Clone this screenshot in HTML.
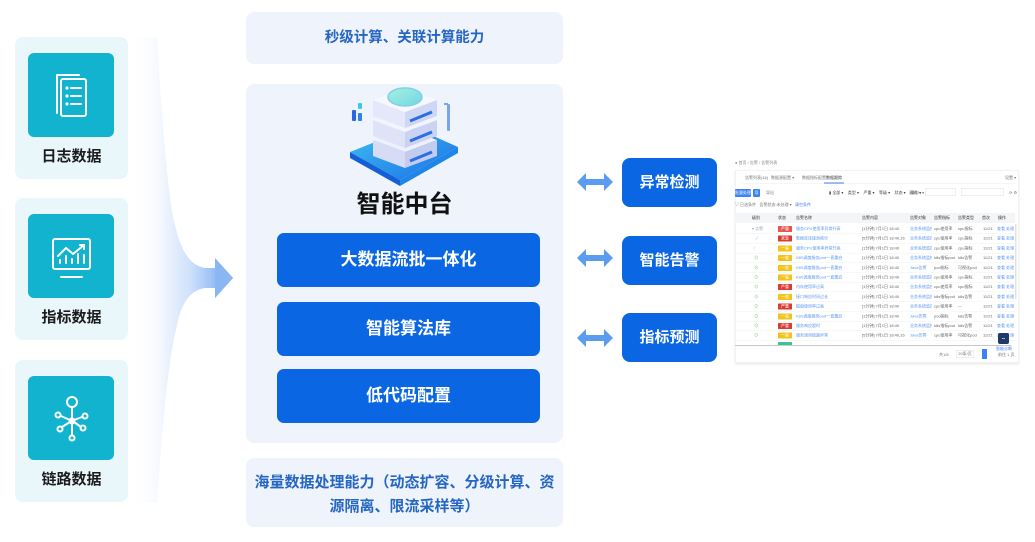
<!DOCTYPE html>
<html><head><meta charset="utf-8">
<style>
*{margin:0;padding:0;box-sizing:border-box}
html,body{width:1035px;height:542px;background:#fff;overflow:hidden}
body{position:relative;font-family:"Liberation Sans","Noto Sans CJK SC",sans-serif}
.abs{position:absolute}
.card{position:absolute;left:15px;width:113px;height:142px;background:#e9f7fb;border-radius:8px}
.teal{position:absolute;left:13px;top:16px;width:86px;height:84px;background:#11b3cf;border-radius:6px}
.lbl{position:absolute;left:0;width:113px;top:109px;text-align:center;font-size:15px;font-weight:bold;color:#1b1b1b;line-height:22px}
.pbox{position:absolute;left:246px;width:317px;background:#eef3fc;border-radius:8px}
.btn{position:absolute;left:277px;width:263px;height:54px;background:#0b66e4;border-radius:7px;color:#fff;font-weight:bold;font-size:17px;text-align:center;line-height:54px}
.rbtn{position:absolute;left:622px;width:95px;height:49px;background:#0b66e4;border-radius:8px;color:#fff;font-weight:bold;font-size:15px;text-align:center;line-height:49px}
/* screenshot */
#shot{position:absolute;left:731px;top:155px;width:580px;height:430px;transform:scale(0.5);transform-origin:0 0;font-size:8px;color:#777;line-height:12px}
#shot .a{position:absolute;white-space:nowrap}
.r{position:absolute;left:8px;width:560px;height:19px;border-bottom:1px solid #f2f2f2}
.r span,.r b,.r i{position:absolute;top:3px;white-space:nowrap;font-style:normal;overflow:hidden}
.tg{left:86px;width:28px;height:12px;color:#fff;text-align:center;font-weight:normal;font-size:8px;line-height:12px;border-radius:1px}
.red{background:#dc3b34}.yel{background:#f2c318}.grn{background:#3cc2a0}
.ck{left:34px;color:#9ab;}
.nm{left:122px;width:120px;color:#5b96f0}
.tm{left:254px;width:90px;color:#666}
.c4{left:350px;width:44px;color:#5b96f0}
.c5{left:398px;width:44px;color:#666}
.c6{left:446px;width:44px;color:#666}
.c7{left:496px;width:26px;color:#666}
.lk{left:524px;color:#5b96f0}
</style></head><body>

<!-- funnel arrow -->
<svg class="abs" style="left:0;top:0" width="1035" height="542" viewBox="0 0 1035 542">
<defs>
<linearGradient id="fg" x1="132" y1="0" x2="215" y2="0" gradientUnits="userSpaceOnUse">
<stop offset="0" stop-color="#ffffff" stop-opacity="0"/>
<stop offset="0.35" stop-color="#f3f7fe"/>
<stop offset="0.7" stop-color="#cfe1fb"/>
<stop offset="1" stop-color="#94bdf5"/>
</linearGradient>
</defs>
<path d="M132 37 L157 37 C162 120,168 200,175 225 C182 255,192 266,205 268 L215 268 L215 258 L233 278 L215 298 L215 288 L205 288 C192 290,182 300,177 325 C168 360,162 430,157 503 L132 503 Z" fill="url(#fg)"/>
<path d="M215 268 L215 258 L233 278 L215 298 L215 288 Z" fill="#8ab7f4"/>
</svg>

<!-- left cards -->
<div class="card" style="top:37px"><div class="teal"></div><div class="lbl">日志数据</div></div>
<div class="card" style="top:198px"><div class="teal"></div><div class="lbl">指标数据</div></div>
<div class="card" style="top:360px"><div class="teal"></div><div class="lbl">链路数据</div></div>

<!-- icons -->
<svg class="abs" style="left:0;top:0" width="140" height="542" viewBox="0 0 140 542" fill="none" stroke="#fff" stroke-width="2" stroke-linecap="round" stroke-linejoin="round">
<path d="M57 113 L57 75 L79 75"/>
<rect x="61" y="79" width="25" height="37" rx="2"/>
<circle cx="67" cy="88" r="0.6" fill="#fff"/><line x1="71" y1="88" x2="81" y2="88"/>
<circle cx="67" cy="96" r="0.6" fill="#fff"/><line x1="71" y1="96" x2="81" y2="96"/>
<circle cx="67" cy="104" r="0.6" fill="#fff"/><line x1="71" y1="104" x2="81" y2="104"/>
<rect x="53" y="239" width="37" height="30" rx="2"/>
<line x1="61" y1="277" x2="82" y2="277"/>
<path d="M58 256 L66 248 L73 254 L84 245" />
<path d="M80 245 L84 245 L84 249"/>
<line x1="60" y1="263" x2="60" y2="260"/><line x1="66" y1="263" x2="66" y2="256"/><line x1="72" y1="263" x2="72" y2="259"/><line x1="78" y1="263" x2="78" y2="254"/><line x1="84" y1="263" x2="84" y2="255"/>
<circle cx="72" cy="402" r="5"/>
<line x1="72" y1="407" x2="72" y2="418"/>
<circle cx="72" cy="421" r="2.5" fill="#fff"/>
<circle cx="58" cy="415" r="2.5"/><circle cx="85" cy="416" r="2.5"/>
<circle cx="60" cy="429" r="2.5"/><circle cx="83" cy="428" r="2.5"/>
<circle cx="72" cy="438" r="2.5"/>
<line x1="61" y1="416" x2="70" y2="420"/><line x1="82" y1="417" x2="74" y2="420"/>
<line x1="62" y1="427" x2="70" y2="422"/><line x1="81" y1="427" x2="74" y2="422"/>
<line x1="72" y1="424" x2="72" y2="435"/>
</svg>

<!-- middle column -->
<div class="pbox" style="top:12px;height:52px;text-align:center;line-height:52px;font-size:14.5px;font-weight:bold;color:#2566c2">秒级计算、关联计算能力</div>
<div class="pbox" style="top:84px;height:359px"></div>
<div class="pbox" style="top:458px;height:69px;text-align:center;font-size:15px;font-weight:bold;color:#2566c2;line-height:24px;padding-top:13px">海量数据处理能力（动态扩容、分级计算、资<br>源隔离、限流采样等）</div>

<!-- server icon -->
<svg class="abs" style="left:340px;top:80px" width="130" height="110" viewBox="340 80 130 110">
<defs>
<linearGradient id="pl" x1="0" y1="0" x2="1" y2="1"><stop offset="0" stop-color="#3fc0f2"/><stop offset="1" stop-color="#1a6fe6"/></linearGradient>
<linearGradient id="dk" x1="0" y1="0" x2="1" y2="1"><stop offset="0" stop-color="#a8f0dc"/><stop offset="1" stop-color="#6fd6e6"/></linearGradient>
</defs>
<polygon points="350,152 400,180 400,186 350,158" fill="#145ed6"/>
<polygon points="400,180 458,147 458,153 400,186" fill="#1d86e6"/>
<polygon points="350,152 413,127 458,147 400,180" fill="url(#pl)"/>
<g>
<polygon points="373,140 405,152 405,168 373,156" fill="#d7dcf5"/>
<polygon points="405,152 437,140 437,156 405,168" fill="#c3cbef"/>
<polygon points="373,140 405,128 437,140 405,152" fill="#eef0fd"/>
<line x1="410" y1="161" x2="432" y2="152" stroke="#2b6fe6" stroke-width="3"/>
<polygon points="373,120 405,132 405,148 373,136" fill="#dfe3f8"/>
<polygon points="405,132 437,120 437,136 405,148" fill="#cbd2f2"/>
<polygon points="373,120 405,108 437,120 405,132" fill="#f2f4fe"/>
<line x1="410" y1="141" x2="432" y2="132" stroke="#2b6fe6" stroke-width="3"/>
<polygon points="373,100 405,112 405,128 373,116" fill="#e4e8fa"/>
<polygon points="405,112 437,100 437,116 405,128" fill="#d0d7f4"/>
<polygon points="373,100 405,88 437,100 405,112" fill="#f6f7ff"/>
<line x1="410" y1="121" x2="432" y2="112" stroke="#2b6fe6" stroke-width="3"/>
<ellipse cx="405" cy="97" rx="17" ry="9" fill="url(#dk)" stroke="#7fd0ee" stroke-width="1.5"/>
</g>
<rect x="352" y="110" width="4" height="11" rx="1" fill="#2a66e6"/>
<rect x="358" y="103" width="4" height="6" rx="1" fill="#3cc8ea"/>
<rect x="358" y="113" width="4" height="8" rx="1" fill="#2a86e8"/>
<rect x="447" y="104" width="3" height="27" rx="1" fill="#79a6e8"/>
<rect x="444" y="103" width="4" height="2" fill="#79a6e8"/>
</svg>

<div class="abs" style="left:246px;width:317px;top:188px;text-align:center;font-size:24px;font-weight:bold;color:#111;line-height:34px">智能中台</div>

<div class="btn" style="top:233px">大数据流批一体化</div>
<div class="btn" style="top:302px">智能算法库</div>
<div class="btn" style="top:369px">低代码配置</div>

<!-- double arrows -->
<svg class="abs" style="left:570px;top:160px" width="50" height="200" viewBox="570 160 50 200" fill="#5a9cf0">
<polygon points="577,182 586,173 586,179 604,179 604,173 613,182 604,191 604,185 586,185 586,191"/>
<polygon points="577,258 586,249 586,255 604,255 604,249 613,258 604,267 604,261 586,261 586,267"/>
<polygon points="577,338 586,329 586,335 604,335 604,329 613,338 604,347 604,341 586,341 586,347"/>
</svg>

<div class="rbtn" style="top:158px">异常检测</div>
<div class="rbtn" style="top:236px">智能告警</div>
<div class="rbtn" style="top:313px">指标预测</div>

<!-- screenshot -->
<div id="shot">
<div class="a" style="left:8px;top:10px;color:#888">● 首页 / 告警 / 告警列表</div>
<div class="a" style="left:8px;top:30px;width:568px;height:386px;background:#fff;border:1px solid #e6e6e6;border-radius:2px;box-shadow:0 3px 5px rgba(0,0,0,0.08)"></div>
<div class="a" style="left:28px;top:40px">告警列表(16)</div>
<div class="a" style="left:80px;top:40px">数据源配置 ▾</div>
<div class="a" style="left:142px;top:40px">数据指标配置</div>
<div class="a" style="left:190px;top:40px;color:#333">数据跟踪</div>
<div class="a" style="left:186px;top:55px;width:40px;height:2px;background:#3b82f6"></div>
<div class="a" style="left:20px;top:57px;width:548px;height:1px;background:#eee"></div>
<div class="a" style="left:548px;top:40px">设置 ▾</div>
<div class="a" style="left:8px;top:68px;width:32px;height:16px;background:#3b82f6;border-radius:2px;color:#fff;font-size:8px;text-align:center;line-height:16px">批量处理</div>
<div class="a" style="left:44px;top:68px;width:14px;height:16px;background:#3b82f6;border-radius:2px;color:#fff;font-size:8px;text-align:center;line-height:16px">导</div>
<div class="a" style="left:70px;top:70px">导出</div>
<div class="a" style="left:196px;top:70px;color:#444">▮ 全部 ▾ &nbsp;&nbsp; 类型 ▾ &nbsp;&nbsp; 严重 ▾ &nbsp;&nbsp; 等级 ▾ &nbsp;&nbsp; 状态 ▾ &nbsp;&nbsp; 操作 ▾</div>
<div class="a" style="left:356px;top:70px">请输入 ▾</div>
<div class="a" style="left:388px;top:66px;width:62px;height:16px;border:1px solid #e2e2e2"></div>
<div class="a" style="left:460px;top:66px;width:86px;height:16px;border:1px solid #e2e2e2"></div>
<div class="a" style="left:556px;top:70px">⟳ ⚙</div>
<div class="a" style="left:8px;top:94px">▽ 已选条件 &nbsp; 告警状态:未处理 ▾ &nbsp; <span style="color:#3b82f6">清空条件</span></div>
<div class="a" style="left:8px;top:116px;width:560px;height:20px;background:#f4f5f7"></div>
<div class="a" style="left:42px;top:120px;color:#333">级别</div>
<div class="a" style="left:94px;top:120px;color:#333">状态</div>
<div class="a" style="left:130px;top:120px;color:#333">告警名称</div>
<div class="a" style="left:262px;top:120px;color:#333">告警内容</div>
<div class="a" style="left:358px;top:120px;color:#333">告警对象</div>
<div class="a" style="left:406px;top:120px;color:#333">告警指标</div>
<div class="a" style="left:454px;top:120px;color:#333">告警类型</div>
<div class="a" style="left:502px;top:120px;color:#333">首次</div>
<div class="a" style="left:534px;top:120px;color:#333">操作</div>

<div class="r" style="top:139px"><i class="ck">▾ 告警</i><b class="tg red" style="background:#e4574f">严重</b><span class="nm">服务CPU使用率异常升高</span><span class="tm">[1分钟] 7月1日 18:40</span><span class="c4">业务系统监控</span><span class="c5">cpu使用率</span><span class="c6">cpu指标</span><span class="c7">11/21</span><span class="lk">查看 处理</span></div>
<div class="r" style="top:158px"><i class="ck">&nbsp;&nbsp;&nbsp;✓</i><b class="tg red">紧急</b><span class="nm">数据库连接池耗尽</span><span class="tm">[5分钟] 7月1日 18:40,16</span><span class="c4">业务系统监控</span><span class="c5">cpu使用率</span><span class="c6">cpu指标</span><span class="c7">11/21</span><span class="lk">查看 处理</span></div>
<div class="r" style="top:178px"><i class="ck" style="color:#e8b020">&nbsp;&nbsp;!</i><b class="tg yel">一般</b><span class="nm">服务CPU使用率异常升高</span><span class="tm">[1分钟] 7月1日 18:40</span><span class="c4">业务系统监控</span><span class="c5">cpu使用率</span><span class="c6">cpu指标</span><span class="c7">11/21</span><span class="lk">查看 处理</span></div>
<div class="r" style="top:197px"><i class="ck" style="color:#4a4">&nbsp;&nbsp;⊙</i><b class="tg yel">一般</b><span class="nm">K8S调度服务pod一直重启</span><span class="tm">[1分钟] 7月1日 18:40</span><span class="c4">业务系统监控</span><span class="c5">k8s指标pod</span><span class="c6">k8s告警</span><span class="c7">11/21</span><span class="lk">查看 处理</span></div>
<div class="r" style="top:217px"><i class="ck" style="color:#4a4">&nbsp;&nbsp;⊙</i><b class="tg yel">一般</b><span class="nm">K8S调度服务pod一直重启</span><span class="tm">[1分钟] 7月1日 18:40</span><span class="c4">Java告警</span><span class="c5">pod指标</span><span class="c6">可视化pod</span><span class="c7">11/21</span><span class="lk">查看 处理</span></div>
<div class="r" style="top:236px"><i class="ck" style="color:#4a4">&nbsp;&nbsp;⊙</i><b class="tg yel">一般</b><span class="nm">K8S调度服务pod一直重启</span><span class="tm">[1分钟] 7月1日 18:40</span><span class="c4">业务系统监控</span><span class="c5">cpu使用率</span><span class="c6">cpu指标</span><span class="c7">11/21</span><span class="lk">查看 处理</span></div>
<div class="r" style="top:255px"><i class="ck" style="color:#4a4">&nbsp;&nbsp;⊙</i><b class="tg red">严重</b><span class="nm">内存使用率过高</span><span class="tm">[1分钟] 7月1日 18:40</span><span class="c4">业务系统监控</span><span class="c5">cpu使用率</span><span class="c6">cpu指标</span><span class="c7">11/21</span><span class="lk">查看 处理</span></div>
<div class="r" style="top:275px"><i class="ck" style="color:#4a4">&nbsp;&nbsp;⊙</i><b class="tg yel">一般</b><span class="nm">接口响应时间过长</span><span class="tm">[1分钟] 7月1日 18:40</span><span class="c4">业务系统监控</span><span class="c5">k8s指标pod</span><span class="c6">k8s告警</span><span class="c7">11/21</span><span class="lk">查看 处理</span></div>
<div class="r" style="top:294px"><i class="ck" style="color:#4a4">&nbsp;&nbsp;⊙</i><b class="tg red">严重</b><span class="nm">磁盘使用率过高</span><span class="tm">[1分钟] 7月1日 18:40</span><span class="c4">业务系统监控</span><span class="c5">cpu使用率</span><span class="c6">—</span><span class="c7">11/21</span><span class="lk">查看 处理</span></div>
<div class="r" style="top:314px"><i class="ck" style="color:#4a4">&nbsp;&nbsp;⊙</i><b class="tg yel">一般</b><span class="nm">K8S调度服务pod一直重启</span><span class="tm">[1分钟] 7月1日 18:40</span><span class="c4">Java告警</span><span class="c5">pod指标</span><span class="c6">k8s告警</span><span class="c7">11/21</span><span class="lk">查看 处理</span></div>
<div class="r" style="top:333px"><i class="ck" style="color:#4a4">&nbsp;&nbsp;⊙</i><b class="tg red">严重</b><span class="nm">服务响应超时</span><span class="tm">[1分钟] 7月1日 18:40</span><span class="c4">业务系统监控</span><span class="c5">k8s指标pod</span><span class="c6">k8s告警</span><span class="c7">11/21</span><span class="lk">查看 处理</span></div>
<div class="r" style="top:352px"><i class="ck" style="color:#4a4">&nbsp;&nbsp;⊙</i><b class="tg yel">一般</b><span class="nm">服务调用链路异常</span><span class="tm">[5分钟] 7月1日 18:40,16</span><span class="c4">Java告警</span><span class="c5">cpu使用率</span><span class="c6">可视化pod</span><span class="c7">11/21</span><span class="lk">查看 处理</span></div>
<div class="a" style="left:8px;top:372px;width:560px;height:8px;overflow:hidden"><div style="position:absolute;left:86px;top:2px;width:28px;height:8px;background:#3cc2a0"></div></div>
<div class="a" style="left:8px;top:380px;width:552px;height:2px;background:#c8c8c8"></div>
<div class="a" style="left:568px;top:138px;width:3px;height:150px;background:#e2e2e2"></div>
<div class="a" style="left:534px;top:356px;width:22px;height:22px;background:#1f3a6a;border-radius:4px;color:#fff;text-align:center;line-height:22px;font-size:8px">••</div>
<div class="a" style="left:530px;top:382px;color:#3b82f6;font-size:8px">智能诊断</div>
<div class="a" style="left:416px;top:394px">共1/8</div>
<div class="a" style="left:450px;top:390px;width:36px;height:16px;border:1px solid #ddd;text-align:center;line-height:14px">20条/页</div>
<div class="a" style="left:502px;top:388px;width:10px;height:20px;background:#3b82f6"></div>
<div class="a" style="left:534px;top:394px">前往 1 页</div>
</div>

</body></html>
